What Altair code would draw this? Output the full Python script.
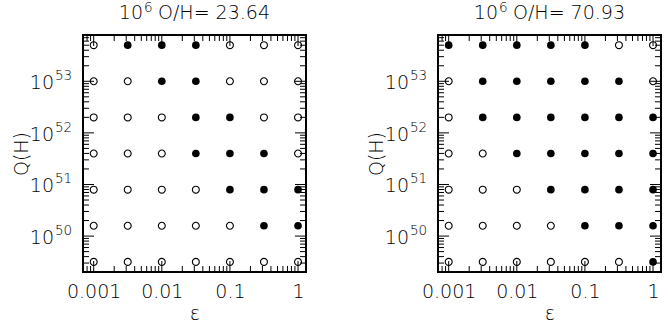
import altair as alt
import pandas as pd

# ---- data ----
eps_values = [0.001, 0.00316, 0.01, 0.0316, 0.1, 0.316, 1.0]
logQ_rows = [53.7, 53.0, 52.3, 51.6, 50.9, 50.2, 49.5]   # top to bottom

# 1 = filled circle, 0 = open circle (rows top->bottom, cols eps left->right)
filled_23 = [
    [0, 1, 1, 1, 0, 0, 0],
    [0, 0, 1, 1, 0, 0, 0],
    [0, 0, 0, 1, 1, 0, 0],
    [0, 0, 0, 1, 1, 1, 0],
    [0, 0, 0, 0, 1, 1, 1],
    [0, 0, 0, 0, 0, 1, 1],
    [0, 0, 0, 0, 0, 0, 0],
]
filled_71 = [
    [1, 1, 1, 1, 1, 0, 0],
    [0, 1, 1, 1, 1, 1, 0],
    [0, 1, 1, 1, 1, 1, 1],
    [0, 0, 1, 1, 1, 1, 1],
    [0, 0, 0, 1, 1, 1, 1],
    [0, 0, 0, 0, 1, 1, 1],
    [0, 0, 0, 0, 0, 0, 1],
]
oh_values = ["23.64", "70.93"]   # panel titles: 10^6 O/H= value

x_major = [0.001, 0.01, 0.1, 1.0]
y_major = [1e50, 1e51, 1e52, 1e53]
y_exponents = ["50", "51", "52", "53"]
minor_mult = [2, 3, 4, 5, 6, 7, 8, 9]

X_DOMAIN = [10 ** -3.157, 10 ** 0.117]
Y_DOMAIN = [10 ** 49.304, 10 ** 53.897]

W, H = 223, 237
MAJ, MIN = 11, 6
FONT = "DejaVu Sans"
FW = 200


def minor_ticks(majors, lo, hi):
    out = []
    for d in [majors[0] / 10] + majors:
        for m in minor_mult:
            v = d * m
            if lo < v < hi:
                out.append(v)
    return out


x_minor = minor_ticks(x_major, *X_DOMAIN)
y_minor = minor_ticks(y_major, *Y_DOMAIN)

xscale = alt.Scale(type="log", domain=X_DOMAIN, nice=False)
yscale = alt.Scale(type="log", domain=Y_DOMAIN, nice=False)

xaxis = alt.Axis(values=x_major, format="~g", ticks=False, domain=False,
                 grid=False, labelPadding=10, labelFontSize=19,
                 titleFontSize=19, titlePadding=3, labelFont=FONT,
                 titleFont=FONT, titleFontWeight=FW, labelFontWeight=FW,
                 labelColor="black", titleColor="black", labelFlush=False)
yaxis = alt.Axis(values=y_major, labels=False, ticks=False,
                 domain=False, grid=False, titleFontSize=19, titlePadding=52,
                 titleFont=FONT, titleFontWeight=FW, titleColor="black")
XT = "\u03b5"
YT = "Q(H)"


def tick_layers():
    layers = []
    for vals, L in [(x_major, MAJ), (x_minor, MIN)]:
        df = pd.DataFrame({"v": vals})
        b = alt.Chart(df).mark_rule(color="black", strokeWidth=1)
        xe = alt.X("v:Q", scale=xscale, axis=xaxis, title=XT)
        layers.append(b.encode(x=xe, y=alt.value(H - L), y2=alt.value(H)))
        layers.append(b.encode(x=xe, y=alt.value(0), y2=alt.value(L)))
    for vals, L in [(y_major, MAJ), (y_minor, MIN)]:
        df = pd.DataFrame({"v": vals})
        b = alt.Chart(df).mark_rule(color="black", strokeWidth=1)
        ye = alt.Y("v:Q", scale=yscale, axis=yaxis, title=YT)
        layers.append(b.encode(y=ye, x=alt.value(0), x2=alt.value(L)))
        layers.append(b.encode(y=ye, x=alt.value(W - L), x2=alt.value(W)))
    return layers


def ylabel_layers():
    df = pd.DataFrame({"v": y_major, "exp": y_exponents})
    ye = alt.Y("v:Q", scale=yscale, axis=yaxis, title=YT)
    base = alt.Chart(df)
    ten = base.mark_text(align="right", baseline="middle", dy=2, fontSize=19,
                         font=FONT, fontWeight=FW, color="black").encode(
        y=ye, x=alt.value(-29), text=alt.value("10"))
    sup = base.mark_text(align="left", baseline="middle", dy=-5, fontSize=13.5,
                         font=FONT, fontWeight=FW, color="black").encode(
        y=ye, x=alt.value(-28), text="exp:N")
    return [ten, sup]


def title_layers(value):
    df = pd.DataFrame({"t": [value]})
    base = alt.Chart(df)
    kw = dict(baseline="middle", font=FONT, fontWeight=FW, color="black")
    ten = base.mark_text(align="right", fontSize=19, **kw).encode(
        x=alt.value(60), y=alt.value(-22), text=alt.value("10"))
    six = base.mark_text(align="left", fontSize=13.5, **kw).encode(
        x=alt.value(61), y=alt.value(-27), text=alt.value("6"))
    rest = base.mark_text(align="left", fontSize=19, **kw).encode(
        x=alt.value(75), y=alt.value(-22), text=alt.Text("label:N")
    ).transform_calculate(label="'O/H= ' + datum.t")
    return [ten, six, rest]


def panel(grid, value):
    rows = []
    for i, lq in enumerate(logQ_rows):
        for j, e in enumerate(eps_values):
            rows.append({"eps": e, "Q": 10 ** lq, "filled": bool(grid[i][j])})
    df = pd.DataFrame(rows)
    base = alt.Chart(df).encode(
        x=alt.X("eps:Q", scale=xscale, title=XT, axis=xaxis),
        y=alt.Y("Q:Q", scale=yscale, title=YT, axis=yaxis),
    )
    open_pts = base.transform_filter("!datum.filled").mark_point(
        shape="circle", filled=False, color="black", size=48, strokeWidth=1.1, opacity=1)
    full_pts = base.transform_filter("datum.filled").mark_point(
        shape="circle", filled=True, color="black", size=58, opacity=1)
    return alt.layer(open_pts, full_pts, *tick_layers(), *ylabel_layers(),
                     *title_layers(value)).properties(
        width=W, height=H,
        view=alt.ViewBackground(stroke="black", strokeWidth=2),
    )


chart = alt.hconcat(panel(filled_23, oh_values[0]), panel(filled_71, oh_values[1]),
                    spacing=58).properties(
    padding={"left": 11, "top": 0, "right": 5, "bottom": 5}
).configure_view(stroke="black", strokeWidth=2).configure(background="white")

chart.save("out.html", embed_options={"renderer": "svg", "actions": False})
